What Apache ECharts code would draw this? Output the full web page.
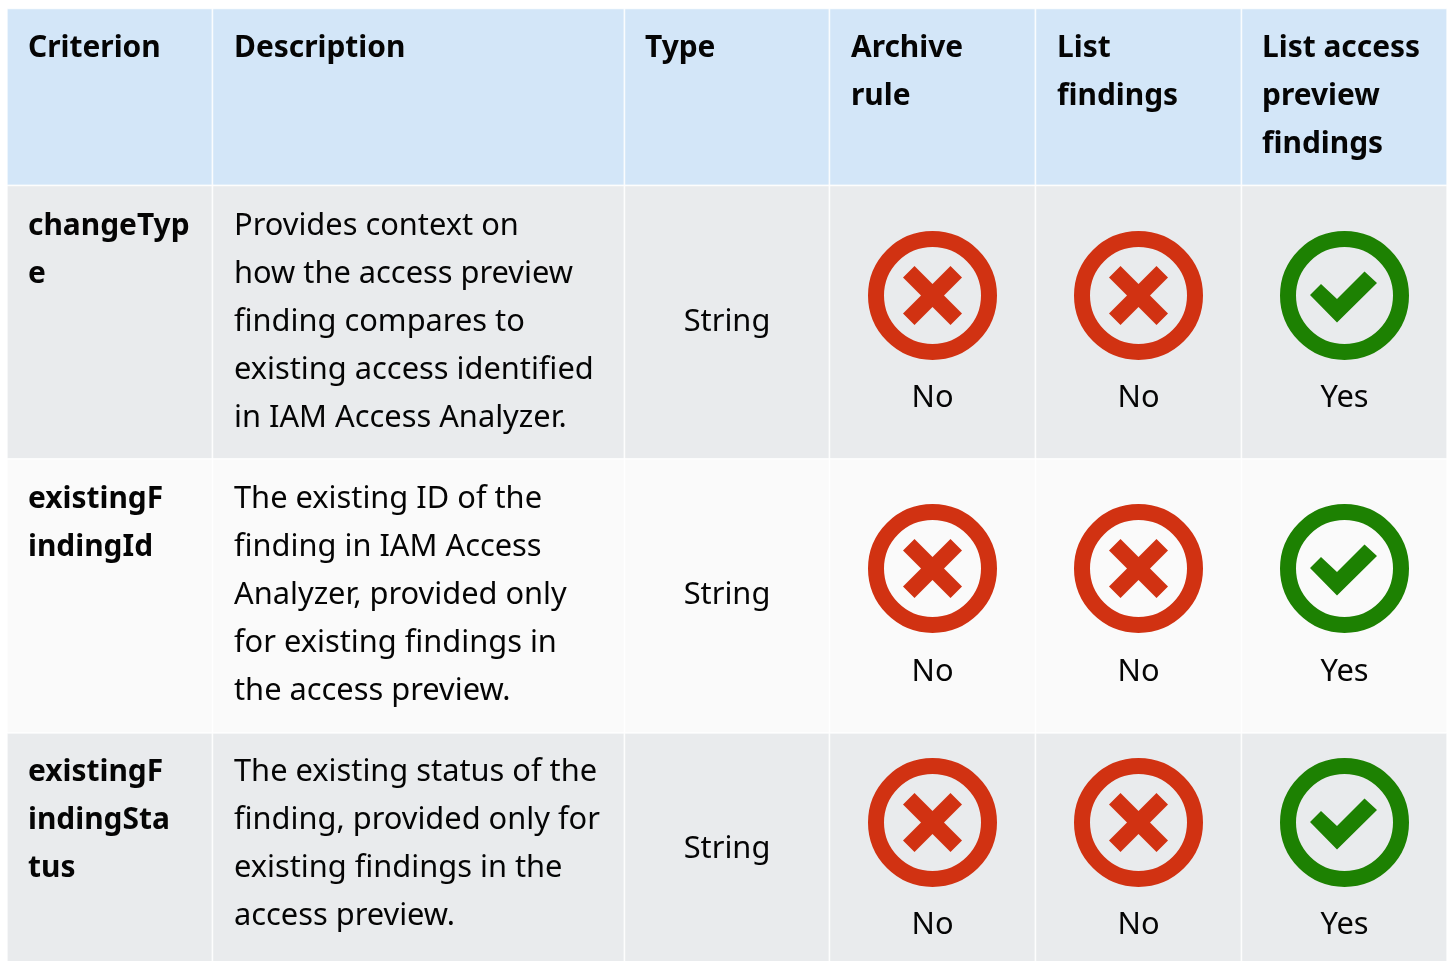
<!DOCTYPE html>
<html><head><meta charset="utf-8">
<style>html,body{margin:0;padding:0;background:#fff}#c{width:1448px;height:961px}</style>
<script src="https://cdn.jsdelivr.net/npm/echarts@6/dist/echarts.min.js"></script>
</head><body><div id="c"></div>
<script>
// ---- table content ----
const headers = [["Criterion"],["Description"],["Type"],["Archive","rule"],["List","findings"],["List access","preview","findings"]];
const criteria = [["changeTyp","e"],["existingF","indingId"],["existingF","indingSta","tus"]];
const descriptions = [
  ["Provides context on","how the access preview","finding compares to","existing access identified","in IAM Access Analyzer."],
  ["The existing ID of the","finding in IAM Access","Analyzer, provided only","for existing findings in","the access preview."],
  ["The existing status of the","finding, provided only for","existing findings in the","access preview."]
];
const types = ["String","String","String"];
const archiveRule = ["No","No","No"];
const listFindings = ["No","No","No"];
const listAccessPreview = ["Yes","Yes","Yes"];

// ---- layout ----
const colEdges = [7,212.5,624.5,829.5,1035.5,1241.5,1447];
const rowEdges = [8.5,185.5,459,733,964];
const rowFills = ["#d3e6f8","#e9ebed","#fafafa","#e9ebed"];
const LINE = 48;
const FONT = '"Noto Sans"';
const headerX = [28,234,645,851,1057,1262];
const headerY = 48;
const criteriaX = 28;
const descX = 234;
const firstLineY = [226,499,772];
const typeY = [322,595,849];
const iconY = [295.5,568.5,822.5];
const answerY = [398,672,925];
const typeX = 727;
const answerX = [932.5,1138.5,1344.5];
const BOLD_SIZE = 29.9, BODY_SIZE = 30.8;

const cellData = [];
rowFills.forEach((f,r)=>colEdges.slice(0,-1).forEach((x,c)=>cellData.push([x,rowEdges[r],colEdges[c+1],rowEdges[r+1],f])));

const textData = [];
headers.forEach((ls,c)=>ls.forEach((t,i)=>textData.push([headerX[c],headerY+i*LINE,t,'left','bold'])));
criteria.forEach((ls,r)=>ls.forEach((t,i)=>textData.push([criteriaX,firstLineY[r]+i*LINE,t,'left','bold'])));
descriptions.forEach((ls,r)=>ls.forEach((t,i)=>textData.push([descX,firstLineY[r]+i*LINE,t,'left','normal'])));
types.forEach((t,r)=>textData.push([typeX,typeY[r],t,'center','normal']));
[archiveRule,listFindings,listAccessPreview].forEach((col,c)=>col.forEach((t,r)=>textData.push([answerX[c],answerY[r],t,'center','normal'])));

const iconData = [];
[archiveRule,listFindings,listAccessPreview].forEach((col,c)=>col.forEach((t,r)=>iconData.push([answerX[c],iconY[r],t])));

const CROSS = [[0,-11.5],[18,-29.5],[29.5,-18],[11.5,0],[29.5,18],[18,29.5],[0,11.5],[-18,29.5],[-29.5,18],[-11.5,0],[-29.5,-18],[-18,-29.5]];
const CHECK = [[-23.5,-11.5],[-7.5,3.5],[20,-24],[32.5,-12.5],[-7.5,27],[-34.5,-0.5]];

const chart = echarts.init(document.getElementById('c'),null,{renderer:'canvas'});
chart.setOption({
  animation:false,
  backgroundColor:'#ffffff',
  grid:{left:0,right:0,top:0,bottom:0},
  xAxis:{type:'value',min:0,max:1448,show:false},
  yAxis:{type:'value',min:0,max:961,inverse:true,show:false},
  series:[
    {type:'custom',coordinateSystem:'cartesian2d',silent:true,data:cellData,clip:true,
     encode:{x:[0,2],y:[1,3]},
     renderItem(p,api){
       const a=api.coord([api.value(0),api.value(1)]),b=api.coord([api.value(2),api.value(3)]);
       return {type:'rect',shape:{x:a[0],y:a[1],width:b[0]-a[0],height:b[1]-a[1]},
         style:{fill:cellData[p.dataIndex][4],stroke:'rgba(255,255,255,0.8)',lineWidth:1.5}};
     }},
    {type:'custom',coordinateSystem:'cartesian2d',silent:true,data:iconData,clip:false,
     encode:{x:0,y:1},
     renderItem(p,api){
       const c=api.coord([api.value(0),api.value(1)]);
       const yes=iconData[p.dataIndex][2]==='Yes';
       const col=yes?'#1d8102':'#d13212';
       return {type:'group',children:[
         {type:'circle',shape:{cx:c[0],cy:c[1],r:56.5},style:{fill:'none',stroke:col,lineWidth:16}},
         {type:'polygon',shape:{points:(yes?CHECK:CROSS).map(q=>[c[0]+q[0],c[1]+q[1]])},style:{fill:col}}
       ]};
     }},
    {type:'custom',coordinateSystem:'cartesian2d',silent:true,data:textData,clip:false,
     encode:{x:0,y:1},
     renderItem(p,api){
       const d=textData[p.dataIndex];
       const c=api.coord([d[0],d[1]]);
       return {type:'text',x:c[0],y:c[1],style:{text:d[2],align:d[3],verticalAlign:'middle',
         fontFamily:FONT,fontSize:d[4]==='bold'?BOLD_SIZE:BODY_SIZE,fontWeight:d[4],fill:'#050505'}};
     }}
  ]
});
</script></body></html>
